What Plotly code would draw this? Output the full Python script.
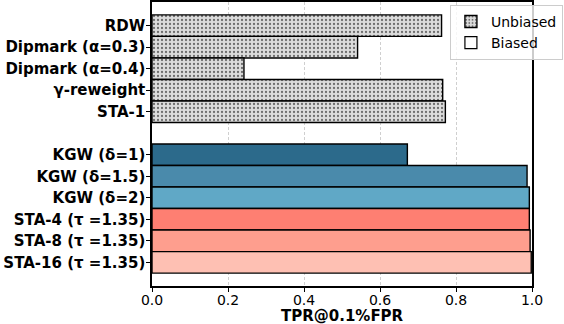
import plotly.graph_objects as go

# Data
unbiased_labels = ["RDW", "Dipmark (α=0.3)", "Dipmark (α=0.4)", "γ-reweight", "STA-1"]
unbiased_values = [0.762, 0.541, 0.242, 0.765, 0.772]

biased_labels = ["KGW (δ=1)", "KGW (δ=1.5)", "KGW (δ=2)",
                 "STA-4 (τ =1.35)", "STA-8 (τ =1.35)", "STA-16 (τ =1.35)"]
biased_values = [0.672, 0.987, 0.993, 0.993, 0.995, 0.998]
biased_colors = ["#2c6a8b", "#4a8aab", "#60a8c6", "#fe7f72", "#fe9e8e", "#fec0b3"]

x_title = "TPR@0.1%FPR"

# positions, one empty slot between the groups
unbiased_pos = list(range(len(unbiased_labels)))
biased_pos = [len(unbiased_labels) + 1 + i for i in range(len(biased_labels))]

fig = go.Figure()

fig.add_trace(go.Bar(
    x=unbiased_values, y=unbiased_pos, orientation="h", width=1,
    name="Unbiased", showlegend=True,
    marker=dict(color="#dcdcdc", line=dict(color="black", width=1.4),
                pattern=dict(shape=".", fgcolor="black", bgcolor="#dcdcdc",
                             size=4, solidity=0.25)),
))

fig.add_trace(go.Bar(
    x=biased_values, y=biased_pos, orientation="h", width=1,
    name="Biased", showlegend=False,
    marker=dict(color=biased_colors, line=dict(color="black", width=1.4)),
))

# legend-only entry for the biased group
fig.add_trace(go.Bar(
    x=[None], y=[None], orientation="h", name="Biased",
    marker=dict(color="white", line=dict(color="black", width=1.2)),
))

fig.update_layout(
    width=564, height=324,
    margin=dict(l=152, r=32, t=2, b=38, autoexpand=False),
    plot_bgcolor="white", paper_bgcolor="white",
    barmode="overlay",
    font=dict(family="DejaVu Sans", size=14, color="black"),
    legend=dict(x=0.784, y=0.99, xanchor="left", yanchor="top",
                bgcolor="rgba(255,255,255,0.8)", bordercolor="#cccccc", borderwidth=1,
                font=dict(size=14), tracegroupgap=0, itemwidth=30),
)

# axis title placed as annotation so it sits below the tick labels
fig.add_annotation(text="<b>%s</b>" % x_title, xref="paper", yref="paper",
                   x=0.5, y=-0.106, xanchor="center", yanchor="middle",
                   showarrow=False, font=dict(size=15))

fig.update_xaxes(
    range=[0, 1.0], tickvals=[0, 0.2, 0.4, 0.6, 0.8, 1.0],
    ticktext=["0.0", "0.2", "0.4", "0.6", "0.8", "1.0"],
    showgrid=True, gridcolor="#cfcfcf", griddash="3px,2px", gridwidth=1,
    showline=True, linecolor="black", linewidth=1.5, mirror=True,
    ticks="outside", ticklen=4, tickcolor="black",
    tickfont=dict(size=14), ticklabelstandoff=-4,
    zeroline=False,
)

last = len(unbiased_labels) + len(biased_labels)
fig.update_yaxes(
    range=[last + 1.1, -1.1],
    tickvals=unbiased_pos + biased_pos,
    ticktext=["<b>%s</b>" % t for t in unbiased_labels + biased_labels],
    showgrid=False, zeroline=False,
    showline=True, linecolor="black", linewidth=1.5, mirror=True,
    ticks="outside", ticklen=4, tickcolor="black",
    tickfont=dict(size=15), ticklabelstandoff=-2,
)

fig.write_html("out.html", config={"displayModeBar": False},
               post_script="document.body.style.margin='0';")
